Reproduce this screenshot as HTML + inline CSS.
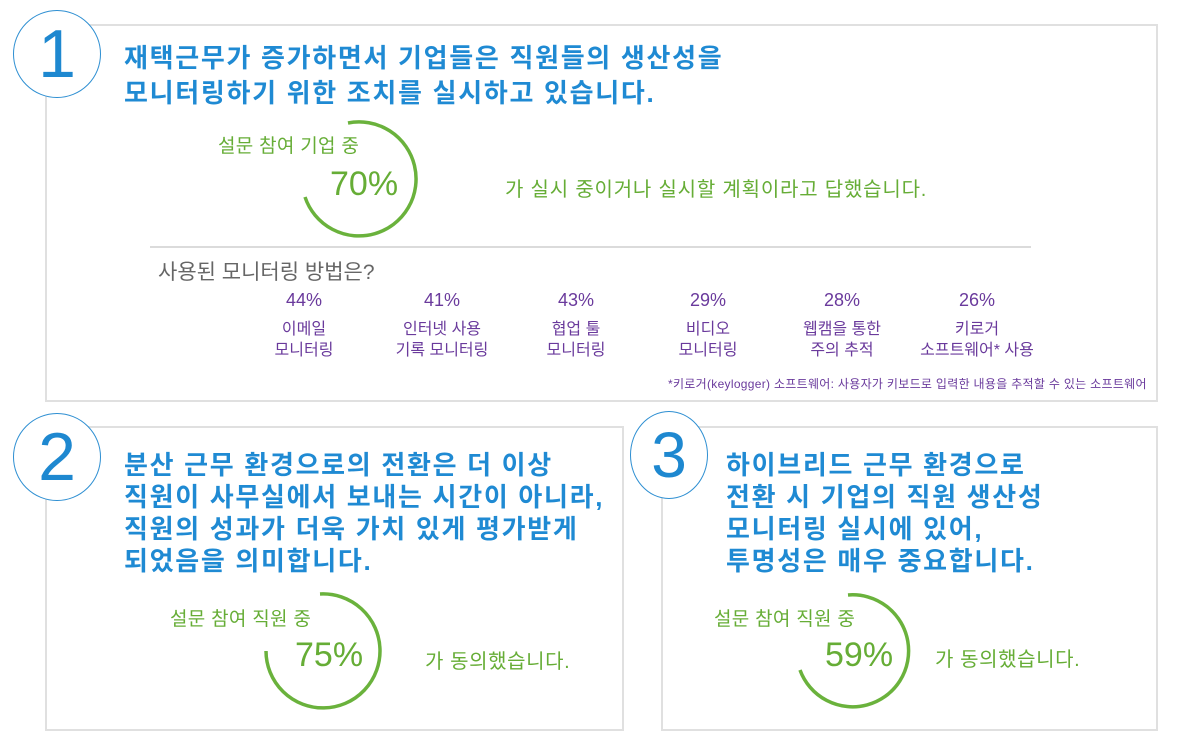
<!DOCTYPE html>
<html><head><meta charset="utf-8"><style>
body{margin:0;width:1200px;height:753px;background:#fff;position:relative;overflow:hidden;font-family:"Liberation Sans","Noto Sans CJK KR",sans-serif}
.a{position:absolute;white-space:nowrap}
.box{position:absolute;border:2px solid #e0e0e0;box-sizing:border-box}
.num{position:absolute;border:1.5px solid #2e8fd2;border-radius:50%;background:#fff;color:#1e88d0;text-align:center;font-weight:300;box-sizing:border-box}
.t{color:#1f8ad3;font-weight:bold;font-size:26px;line-height:32px;letter-spacing:1.7px}
.g{color:#66ad36}
.p{color:#6a3a9c;text-align:center;width:160px}
</style></head><body>
<div class="box" style="left:45px;top:24px;width:1113px;height:378px"></div>
<div class="box" style="left:45px;top:426px;width:579px;height:305px"></div>
<div class="box" style="left:661px;top:426px;width:497px;height:305px"></div>

<div class="num" style="left:13px;top:10px;width:88px;height:88px;font-size:68px;line-height:86px">1</div>
<div class="num" style="left:13px;top:413px;width:88px;height:88px;font-size:68px;line-height:86px">2</div>
<div class="num" style="left:630px;top:411px;width:78px;height:88px;font-size:64px;line-height:86px">3</div>

<div class="a t" style="left:124px;top:41px;line-height:35px">재택근무가 증가하면서 기업들은 직원들의 생산성을<br>모니터링하기 위한 조치를 실시하고 있습니다.</div>
<div class="a t" style="left:124px;top:449px">분산 근무 환경으로의 전환은 더 이상<br>직원이 사무실에서 보내는 시간이 아니라,<br>직원의 성과가 더욱 가치 있게 평가받게<br>되었음을 의미합니다.</div>
<div class="a t" style="left:726px;top:449px">하이브리드 근무 환경으로<br>전환 시 기업의 직원 생산성<br>모니터링 실시에 있어,<br>투명성은 매우 중요합니다.</div>

<svg class="a" style="left:0;top:0" width="1200" height="753">
<g fill="none" stroke="#6ab23c" stroke-width="3.5">
<path d="M348 123 A57 57 0 1 1 305 197"/>
<path d="M320 594 A57 57 0 1 1 266 651"/>
<path d="M848 595 A56 56 0 1 1 800 670"/>
</g>
<line x1="150" y1="247" x2="1031" y2="247" stroke="#cfcfcf" stroke-width="1.5"/>
</svg>

<div class="a g" style="left:218px;top:131px;font-size:19px;letter-spacing:0.3px">설문 참여 기업 중</div>
<div class="a g" style="left:330px;top:165px;font-size:34px;font-weight:300">70%</div>
<div class="a g" style="left:505px;top:173px;font-size:20px;letter-spacing:0.8px">가 실시 중이거나 실시할 계획이라고 답했습니다.</div>

<div class="a" style="left:158px;top:256px;font-size:21px;color:#666">사용된 모니터링 방법은?</div>
<div class="a p" style="left:224px;top:290px;font-size:18px">44%</div>
<div class="a p" style="left:362px;top:290px;font-size:18px">41%</div>
<div class="a p" style="left:496px;top:290px;font-size:18px">43%</div>
<div class="a p" style="left:628px;top:290px;font-size:18px">29%</div>
<div class="a p" style="left:762px;top:290px;font-size:18px">28%</div>
<div class="a p" style="left:897px;top:290px;font-size:18px">26%</div>
<div class="a p" style="left:224px;top:319px;font-size:16px;line-height:21px">이메일<br>모니터링</div>
<div class="a p" style="left:362px;top:319px;font-size:16px;line-height:21px">인터넷 사용<br>기록 모니터링</div>
<div class="a p" style="left:496px;top:319px;font-size:16px;line-height:21px">협업 툴<br>모니터링</div>
<div class="a p" style="left:628px;top:319px;font-size:16px;line-height:21px">비디오<br>모니터링</div>
<div class="a p" style="left:762px;top:319px;font-size:16px;line-height:21px">웹캠을 통한<br>주의 추적</div>
<div class="a p" style="left:897px;top:319px;font-size:16px;line-height:21px">키로거<br>소프트웨어* 사용</div>
<div class="a" style="left:668px;top:375px;font-size:12px;color:#6a3a9c;letter-spacing:0.3px">*키로거(keylogger) 소프트웨어: 사용자가 키보드로 입력한 내용을 추적할 수 있는 소프트웨어</div>

<div class="a g" style="left:170px;top:604px;font-size:19px;letter-spacing:0.3px">설문 참여 직원 중</div>
<div class="a g" style="left:295px;top:636px;font-size:34px;font-weight:300">75%</div>
<div class="a g" style="left:425px;top:645px;font-size:20px;letter-spacing:0.6px">가 동의했습니다.</div>

<div class="a g" style="left:714px;top:604px;font-size:19px;letter-spacing:0.3px">설문 참여 직원 중</div>
<div class="a g" style="left:825px;top:636px;font-size:34px;font-weight:300">59%</div>
<div class="a g" style="left:935px;top:643px;font-size:20px;letter-spacing:0.6px">가 동의했습니다.</div>
</body></html>
